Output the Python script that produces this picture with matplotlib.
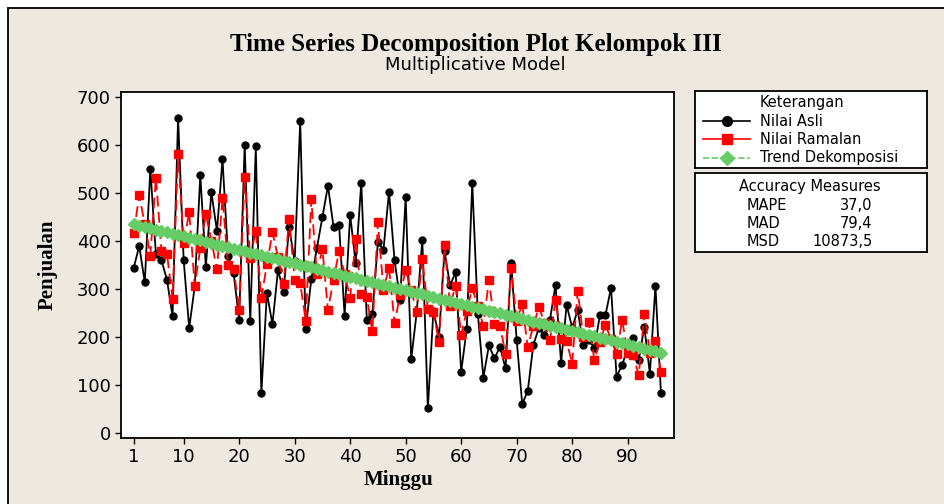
import numpy as np
import matplotlib
matplotlib.use('Agg')
import matplotlib.pyplot as plt
from matplotlib.patches import Rectangle

# data
minggu = np.arange(1, 97)

nilai_asli = [344, 390, 314, 551, 373, 361, 319, 244, 657, 361, 219, 306,
              537, 347, 502, 421, 570, 369, 333, 236, 601, 233, 597, 83,
              292, 227, 340, 295, 429, 358, 649, 217, 321, 385, 450, 515,
              430, 434, 245, 455, 354, 521, 236, 249, 398, 382, 502, 360,
              278, 491, 154, 253, 403, 52, 255, 201, 379, 308, 335, 128,
              217, 521, 249, 116, 183, 156, 180, 135, 355, 194, 61, 88,
              184, 219, 205, 236, 309, 147, 267, 220, 256, 184, 194, 178,
              246, 246, 303, 118, 142, 177, 198, 152, 222, 124, 307, 83]

nilai_ramalan = [417, 495, 435, 370, 532, 380, 373, 280, 582, 397, 460, 307,
                 385, 456, 401, 341, 490, 350, 343, 257, 534, 364, 422, 281,
                 352, 418, 367, 311, 447, 319, 313, 234, 487, 332, 384, 256,
                 320, 379, 332, 282, 405, 289, 283, 212, 439, 299, 345, 230,
                 288, 340, 298, 253, 363, 258, 253, 189, 392, 266, 307, 205,
                 255, 302, 264, 224, 320, 228, 223, 166, 344, 234, 269, 179,
                 223, 263, 230, 194, 278, 197, 193, 144, 297, 201, 231, 153,
                 191, 225, 196, 165, 236, 167, 162, 121, 249, 168, 193, 128]

trend = [435.0, 432.2, 429.4, 426.6, 423.8, 420.9, 418.1, 415.3, 412.5, 409.7, 406.9, 404.1,
         401.3, 398.5, 395.7, 392.9, 390.0, 387.2, 384.4, 381.6, 378.8, 376.0, 373.2, 370.4,
         367.6, 364.8, 361.9, 359.1, 356.3, 353.5, 350.7, 347.9, 345.1, 342.3, 339.5, 336.7,
         333.8, 331.0, 328.2, 325.4, 322.6, 319.8, 317.0, 314.2, 311.4, 308.6, 305.7, 302.9,
         300.1, 297.3, 294.5, 291.7, 288.9, 286.1, 283.3, 280.5, 277.6, 274.8, 272.0, 269.2,
         266.4, 263.6, 260.8, 258.0, 255.2, 252.4, 249.5, 246.7, 243.9, 241.1, 238.3, 235.5,
         232.7, 229.9, 227.1, 224.3, 221.4, 218.6, 215.8, 213.0, 210.2, 207.4, 204.6, 201.8,
         199.0, 196.2, 193.3, 190.5, 187.7, 184.9, 182.1, 179.3, 176.5, 173.7, 170.9, 168.1]

x_ticks = [1, 10, 20, 30, 40, 50, 60, 70, 80, 90]
y_ticks = [0, 100, 200, 300, 400, 500, 600, 700]

akurasi_nama = ['MAPE', 'MAD', 'MSD']
akurasi_nilai = ['37,0', '79,4', '10873,5']

W, H = 944, 504
bg = '#EDE9E0'
hijau = '#66CC66'

fig = plt.figure(figsize=(W / 100, H / 100), dpi=100, facecolor='white')

# beige panel with black frame (right / bottom edges fall outside the image)
fig.patches.append(Rectangle((8 / W, -0.02), 1.05, 1 - 8 / H + 0.02,
                             transform=fig.transFigure, facecolor=bg,
                             edgecolor='black', lw=1.3, zorder=-10))

ax = fig.add_axes([120.7 / W, 1 - 438.3 / H, (674.3 - 120.7) / W, (438.3 - 91.7) / H])
ax.set_facecolor('white')

ax.plot(minggu, nilai_asli, color='black', lw=1.3, marker='o', ms=5,
        markerfacecolor='black', zorder=3)
ax.plot(minggu, nilai_ramalan, color='red', lw=1.3, ls=(0, (6, 3)), marker='s', ms=5.5,
        markerfacecolor='red', markeredgecolor='red', zorder=4)
ax.plot(minggu, trend, color=hijau, lw=2, ls='--', marker='D', ms=6.5,
        markerfacecolor=hijau, markeredgecolor=hijau, zorder=5)

ax.set_xlim(-1.34, 98.4)
ax.set_ylim(-10.4, 711)
ax.set_xticks(x_ticks)
ax.set_yticks(y_ticks)
ax.tick_params(direction='out', length=4, width=1, labelsize=13, pad=3)
for sp in ax.spines.values():
    sp.set_linewidth(1.3)

fig.text(476 / W, 1 - 45 / H, 'Time Series Decomposition Plot Kelompok III',
         ha='center', va='center', family='Liberation Serif', weight='bold', fontsize=18)
fig.text(475 / W, 1 - 65 / H, 'Multiplicative Model',
         ha='center', va='center', family='DejaVu Sans', fontsize=13)
fig.text(398 / W, 1 - 480 / H, 'Minggu', ha='center', va='center',
         family='Liberation Serif', weight='bold', fontsize=15)
fig.text(48 / W, 1 - 265 / H, 'Penjualan', ha='center', va='center', rotation=90,
         family='Liberation Serif', weight='bold', fontsize=15)

# legend box
lg = fig.add_axes([695 / W, 1 - 168.3 / H, 232 / W, 77.3 / H])
lg.set_xlim(0, 232)
lg.set_ylim(77.3, 0)
lg.set_xticks([])
lg.set_yticks([])
for sp in lg.spines.values():
    sp.set_linewidth(1.3)
lg.text(65, 12, 'Keterangan', va='center', fontsize=10.5)
rows = [('Nilai Asli', 'black', '-', 'o'),
        ('Nilai Ramalan', 'red', '-', 's'),
        ('Trend Dekomposisi', hijau, '--', 'D')]
for i, (lab, c, ls, m) in enumerate(rows):
    yy = 30 + i * 18.3
    lg.plot([8, 55], [yy, yy], color=c, ls=ls, lw=1.2)
    lg.plot([32], [yy], marker=m, ms=7, color=c)
    lg.text(65, yy, lab, va='center', fontsize=10.5)

# accuracy box
ac = fig.add_axes([695 / W, 1 - 251.7 / H, 232 / W, 78.4 / H])
ac.set_xlim(0, 232)
ac.set_ylim(78.4, 0)
ac.set_xticks([])
ac.set_yticks([])
for sp in ac.spines.values():
    sp.set_linewidth(1.3)
ac.text(115, 12.7, 'Accuracy Measures', ha='center', va='center', fontsize=10.5)
for i, (n, v) in enumerate(zip(akurasi_nama, akurasi_nilai)):
    yy = 31.7 + i * 18
    ac.text(51.7, yy, n, va='center', fontsize=10.5)
    ac.text(177.7, yy, v, ha='right', va='center', fontsize=10.5)

fig.savefig('out.png', dpi=100, facecolor=fig.get_facecolor())
